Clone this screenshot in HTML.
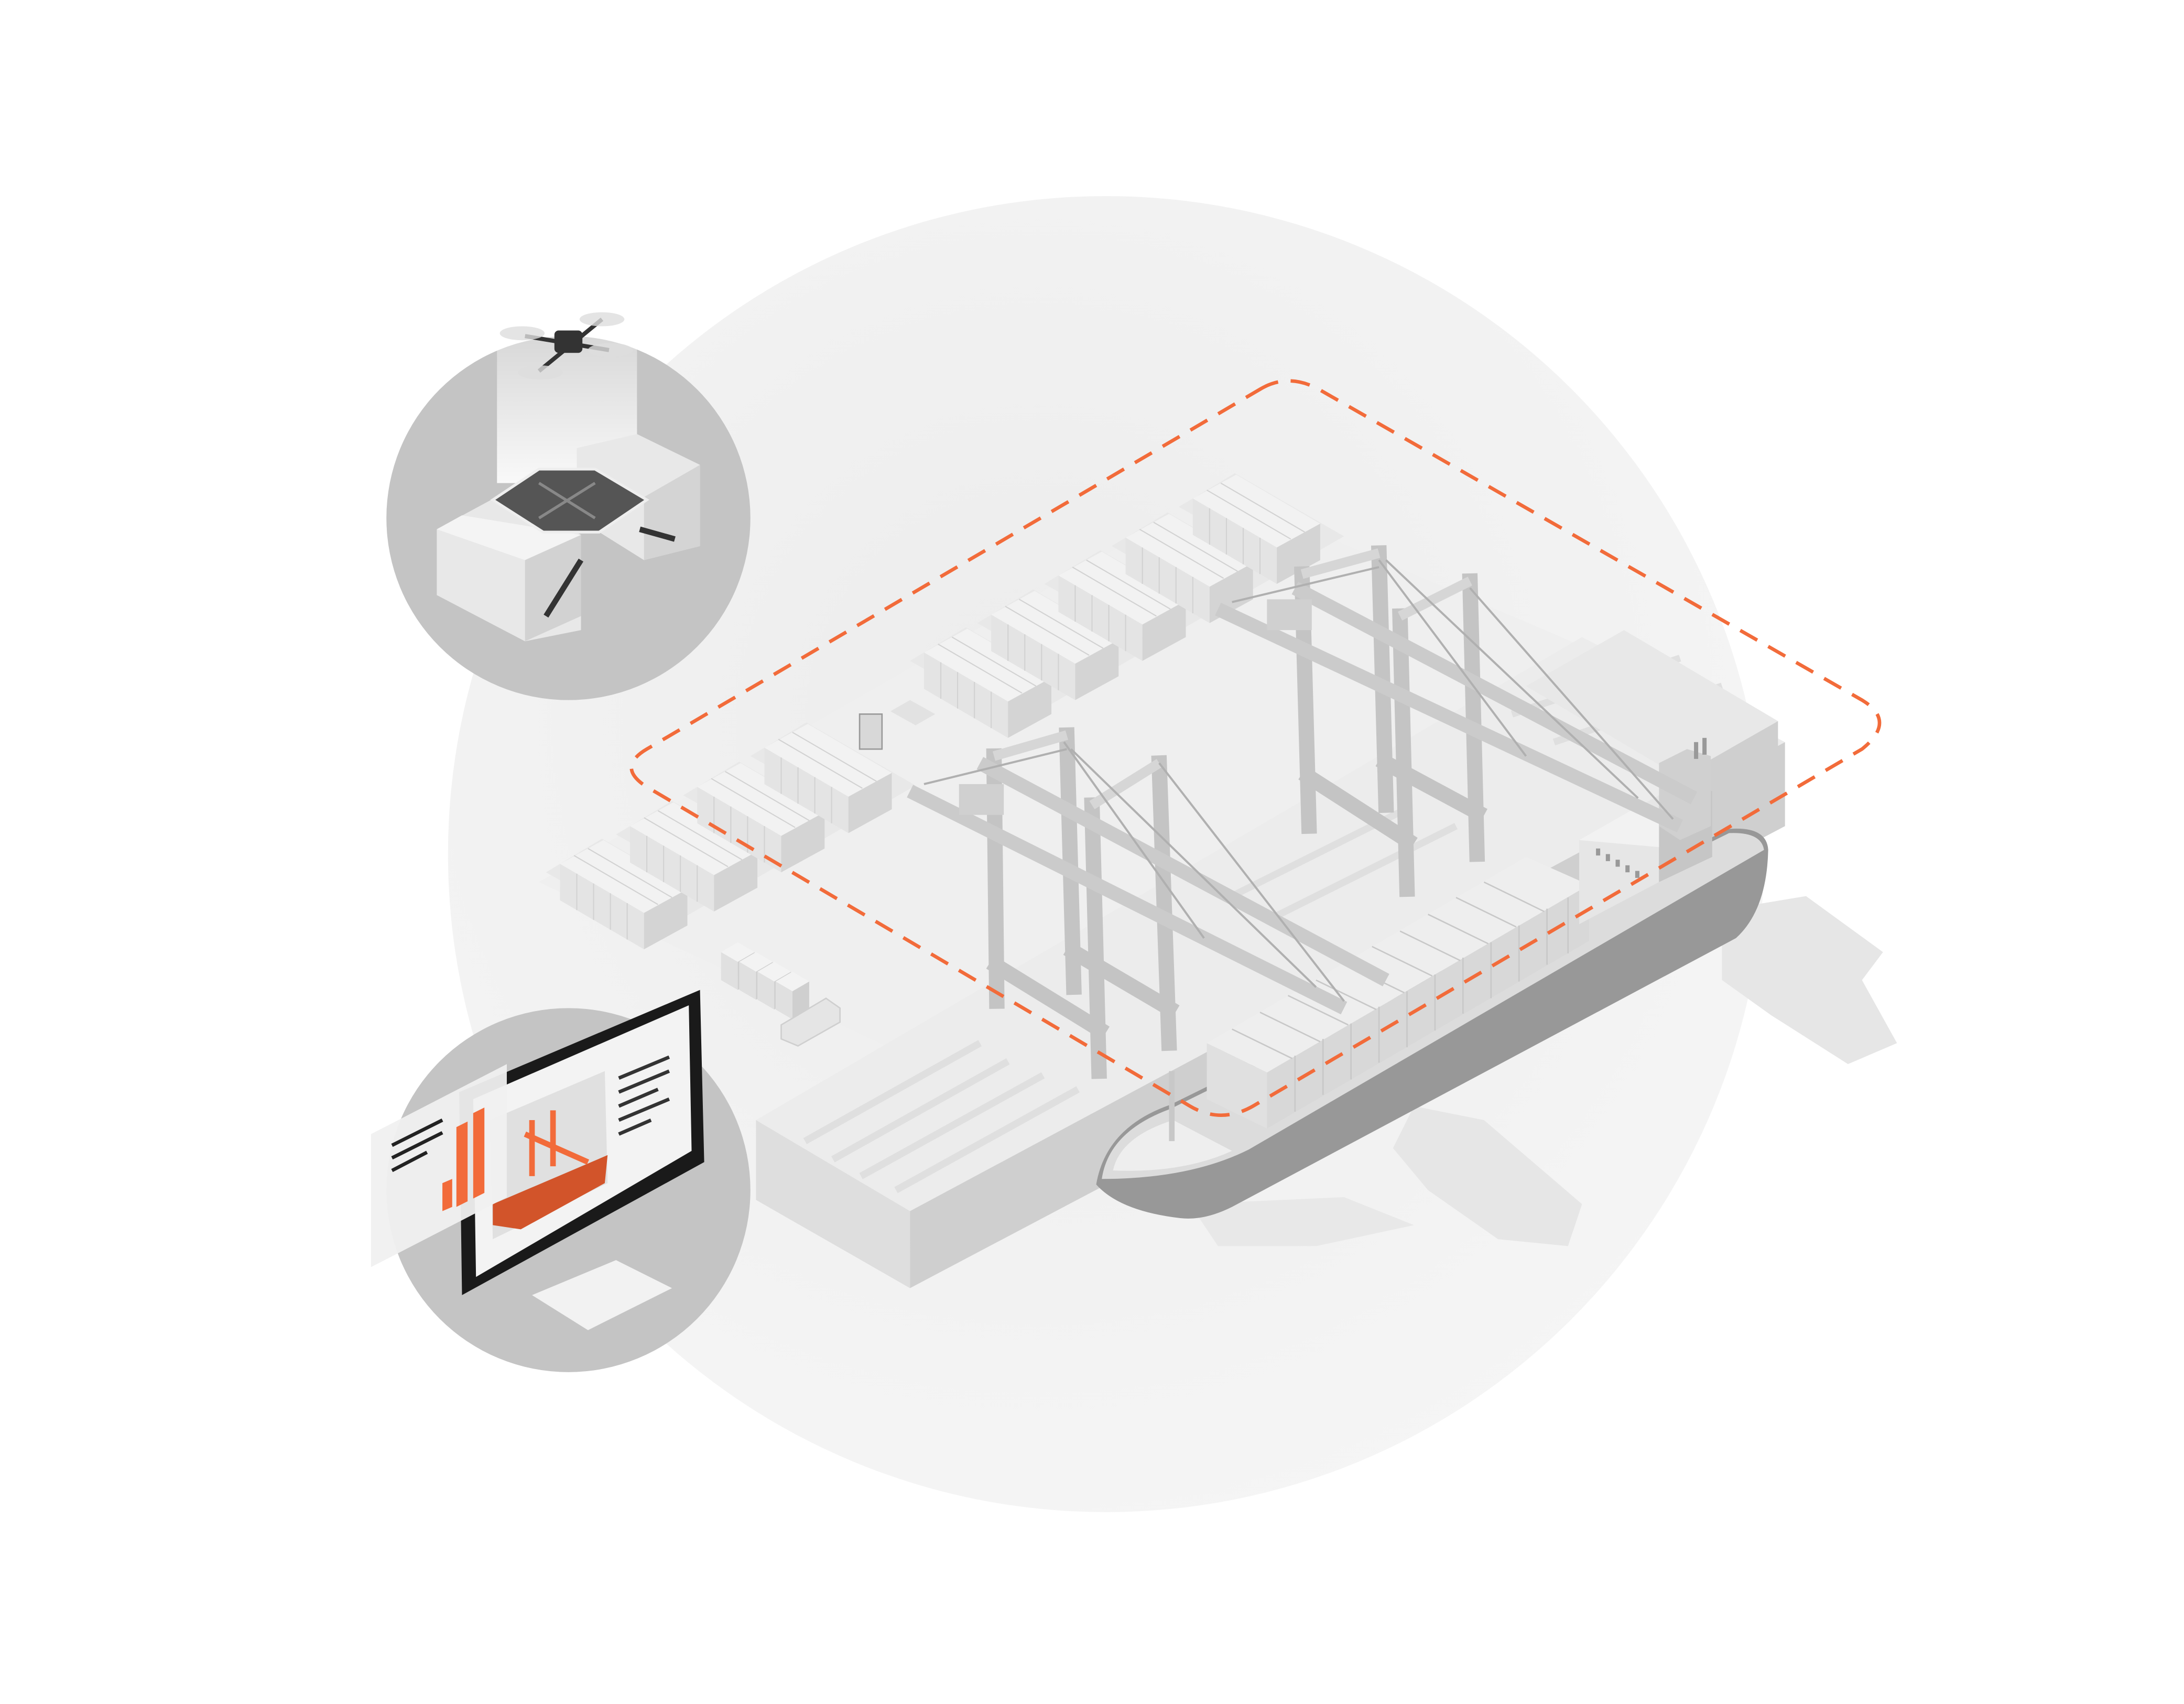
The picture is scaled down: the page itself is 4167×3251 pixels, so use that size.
<!DOCTYPE html>
<html><head><meta charset="utf-8"><style>
html,body{margin:0;padding:0;background:#fff}
svg{display:block}
</style></head><body>
<svg width="4167" height="3251" viewBox="0 0 1560 1217" xmlns="http://www.w3.org/2000/svg">
<defs>
<radialGradient id="bg" cx="0.45" cy="0.4" r="0.7">
<stop offset="0" stop-color="#ececec"/><stop offset="1" stop-color="#f6f6f6"/></radialGradient>
<linearGradient id="beam" x1="0" y1="0" x2="0" y2="1">
<stop offset="0" stop-color="#ffffff" stop-opacity="0.2"/><stop offset="1" stop-color="#ffffff" stop-opacity="0.9"/></linearGradient>
<g id="blk">
<polygon points="-10,6 30,-18 108,27 68,50" fill="#e8e8e8"/>
<polygon points="0,0 31,-17 91,18 60,35" fill="#f2f2f2"/>
<polygon points="0,0 60,35 60,61 0,26" fill="#e4e4e4"/>
<polygon points="60,35 91,18 91,44 60,61" fill="#d4d4d4"/>
<path d="M12,7 v26 M24,14 v26 M36,21 v26 M48,28 v26 M10,-6 l60,35 M20,-11 l60,35" stroke="#d2d2d2" stroke-width="0.8" fill="none"/>
</g>
<g id="cbox">
<polygon points="0,0 12,-7 24,0 12,7" fill="#f3f3f3"/>
<polygon points="0,0 12,7 12,27 0,20" fill="#e0e0e0"/>
<polygon points="12,7 24,0 24,20 12,27" fill="#cfcfcf"/>
</g>
</defs>
<rect width="1560" height="1217" fill="#fff"/>
<circle cx="790" cy="610" r="470" fill="url(#bg)"/>

<!-- ship shadows -->
<polygon points="1230,650 1290,640 1345,680 1330,700 1355,745 1320,760 1265,725 1230,700" fill="#e6e6e6"/>
<polygon points="1010,790 1060,800 1130,860 1120,890 1070,885 1020,850 995,820" fill="#e6e6e6"/>
<polygon points="850,860 960,855 1010,875 940,890 870,890" fill="#e8e8e8"/>

<!-- ground area -->
<polygon points="385,630 870,350 1150,470 660,760" fill="#efefef"/>
<!-- quay -->
<polygon points="540,800 1130,455 1275,530 650,865" fill="#ececec"/>
<polygon points="540,800 650,865 650,920 540,857" fill="#dedede"/>
<polygon points="650,865 1275,530 1275,590 650,920" fill="#cfcfcf"/>
<g stroke="#dedede" stroke-width="5" opacity="0.9">
<line x1="575" y1="815" x2="700" y2="745"/><line x1="595" y1="828" x2="720" y2="758"/>
<line x1="615" y1="840" x2="745" y2="768"/><line x1="640" y1="850" x2="770" y2="778"/>
<line x1="880" y1="640" x2="1000" y2="580"/><line x1="910" y1="655" x2="1040" y2="590"/>
<line x1="1080" y1="510" x2="1200" y2="470"/><line x1="1110" y1="530" x2="1230" y2="490"/>
</g>

<!-- yard container blocks -->
<use href="#blk" x="400" y="617"/>
<use href="#blk" x="450" y="590"/>
<use href="#blk" x="498" y="562"/>
<use href="#blk" x="546" y="534"/>
<use href="#blk" x="660" y="466"/>
<use href="#blk" x="708" y="439"/>
<use href="#blk" x="756" y="411"/>
<use href="#blk" x="804" y="384"/>
<use href="#blk" x="852" y="356"/>
<!-- small items -->
<use href="#cbox" x="515" y="680"/><use href="#cbox" x="528" y="687"/><use href="#cbox" x="541" y="694"/><use href="#cbox" x="554" y="701"/>
<polygon points="558,732 590,713 600,720 600,730 570,747 558,742" fill="#e5e5e5" stroke="#cfcfcf"/>
<polygon points="636,508 650,500 668,510 654,518" fill="#e2e2e2"/>
<rect x="614" y="510" width="16" height="25" fill="#d8d8d8" stroke="#999" stroke-width="1"/>

<!-- warehouse behind ship -->
<polygon points="1090,490 1160,450 1270,515 1200,555" fill="#e8e8e8"/>
<polygon points="1200,555 1270,515 1270,575 1200,615" fill="#cfcfcf"/>

<!-- ship hull -->
<path d="M783,846 Q790,805 836,789 L1235,592 Q1262,590 1263,607 Q1262,650 1240,670 L880,862 Q860,872 843,870 Q800,865 783,846 Z" fill="#989898"/>
<path d="M787,842 Q792,808 836,792 L1235,595 Q1258,594 1260,607 L892,821 Q850,842 787,842 Z" fill="#dcdcdc"/>
<path d="M795,836 Q800,812 838,800 L880,822 Q845,838 795,836 Z" fill="#eeeeee"/>
<!-- ship container mass -->
<polygon points="862,745 1090,612 1135,632 905,766" fill="#eeeeee"/>
<polygon points="862,745 905,766 905,806 862,785" fill="#e0e0e0"/>
<polygon points="905,766 1135,632 1135,672 905,806" fill="#d8d8d8"/>
<g stroke="#c8c8c8" stroke-width="1">
<path d="M925,754 v40 M945,742 v40 M965,731 v40 M985,719 v40 M1005,708 v40 M1025,696 v40 M1045,684 v40 M1065,673 v40 M1085,661 v40 M1105,649 v40 M1120,641 v40"/>
<path d="M880,735 l43,21 M900,723 l43,21 M920,711 l43,21 M940,700 l43,21 M960,688 l43,21 M980,676 l43,21 M1000,665 l43,21 M1020,653 l43,21 M1040,641 l43,21 M1060,630 l43,21"/>
</g>
<!-- superstructure -->
<polygon points="1128,600 1185,568 1185,630 1128,660" fill="#e6e6e6"/>
<polygon points="1128,600 1170,576 1210,590 1185,605" fill="#f2f2f2"/>
<polygon points="1185,568 1200,560 1223,565 1223,612 1185,630" fill="#c6c6c6"/>
<polygon points="1185,545 1205,535 1222,540 1222,590 1200,600 1185,590" fill="#d0d0d0"/>
<g fill="#999"><rect x="1140" y="606" width="3" height="5"/><rect x="1147" y="610" width="3" height="5"/><rect x="1154" y="614" width="3" height="5"/><rect x="1161" y="618" width="3" height="5"/><rect x="1168" y="622" width="3" height="5"/></g>
<rect x="1210" y="530" width="3" height="12" fill="#999"/><rect x="1216" y="527" width="3" height="12" fill="#999"/>
<!-- bow mast -->
<rect x="835" y="765" width="4" height="50" fill="#c8c8c8"/>

<!-- cranes -->
<g stroke="#c4c4c4" stroke-width="11" fill="none" stroke-linecap="square">
<line x1="710" y1="540" x2="712" y2="715"/><line x1="762" y1="525" x2="767" y2="705"/>
<line x1="780" y1="575" x2="785" y2="765"/><line x1="828" y1="545" x2="835" y2="745"/>
<line x1="712" y1="690" x2="785" y2="735"/><line x1="767" y1="680" x2="835" y2="720"/>
<line x1="930" y1="410" x2="935" y2="590"/><line x1="985" y1="395" x2="990" y2="575"/>
<line x1="1000" y1="440" x2="1005" y2="635"/><line x1="1050" y1="415" x2="1055" y2="610"/>
<line x1="935" y1="555" x2="1005" y2="600"/><line x1="990" y1="545" x2="1055" y2="580"/>
</g>
<g stroke="#cbcbcb" stroke-width="10" fill="none">
<line x1="650" y1="565" x2="960" y2="720"/><line x1="700" y1="545" x2="990" y2="700"/>
<line x1="870" y1="435" x2="1200" y2="590"/><line x1="925" y1="420" x2="1210" y2="570"/>
</g>
<g stroke="#d6d6d6" stroke-width="7" fill="none">
<line x1="710" y1="540" x2="762" y2="525"/><line x1="780" y1="575" x2="828" y2="545"/>
<line x1="930" y1="410" x2="985" y2="395"/><line x1="1000" y1="440" x2="1050" y2="415"/>
</g>
<g stroke="#b0b0b0" stroke-width="1.5" fill="none">
<line x1="765" y1="535" x2="940" y2="705"/><line x1="828" y1="545" x2="960" y2="715"/>
<line x1="990" y1="400" x2="1170" y2="570"/><line x1="1050" y1="420" x2="1195" y2="585"/>
<line x1="760" y1="530" x2="860" y2="670"/><line x1="985" y1="400" x2="1090" y2="540"/>
<line x1="660" y1="560" x2="762" y2="535"/><line x1="880" y1="430" x2="985" y2="405"/>
</g>
<rect x="685" y="560" width="32" height="22" fill="#d0d0d0"/>
<rect x="905" y="428" width="32" height="22" fill="#d0d0d0"/>

<!-- orange dashed outline -->
<path d="M900,278 Q920,266 942,278 L1330,500 Q1355,515 1330,535 L895,790 Q872,803 850,790 L462,562 Q440,548 462,535 Z" fill="none" stroke="#f26b3a" stroke-width="2.5" stroke-dasharray="14,9"/>

<!-- top-left circle -->
<circle cx="406" cy="370" r="130" fill="#c4c4c4"/>
<rect x="355" y="215" width="100" height="130" fill="url(#beam)"/>
<polygon points="312,378 360,352 415,382 415,450 375,458 312,425" fill="#e8e8e8"/>
<polygon points="312,378 330,368 415,382 375,400" fill="#f4f4f4"/>
<polygon points="375,400 415,382 415,440 375,458" fill="#d2d2d2"/>
<polygon points="412,320 455,310 500,332 500,390 460,400 412,370" fill="#e8e8e8"/>
<polygon points="460,355 500,332 500,390 460,400" fill="#d4d4d4"/>
<polygon points="352,357 385,335 425,335 462,357 428,380 388,380" fill="#555" stroke="#eee" stroke-width="2"/>
<path d="M385,345 L425,370 M425,345 L385,370" stroke="#888" stroke-width="2"/>
<line x1="390" y1="440" x2="415" y2="400" stroke="#333" stroke-width="4"/>
<line x1="457" y1="378" x2="482" y2="385" stroke="#333" stroke-width="4"/>
<!-- drone -->
<g stroke="#333" stroke-width="3" fill="none">
<line x1="375" y1="240" x2="435" y2="250"/><line x1="385" y1="265" x2="430" y2="228"/>
</g>
<ellipse cx="373" cy="238" rx="16" ry="5" fill="#ddd" opacity="0.8"/>
<ellipse cx="436" cy="250" rx="16" ry="5" fill="#ddd" opacity="0.8"/>
<ellipse cx="386" cy="266" rx="16" ry="5" fill="#ddd" opacity="0.8"/>
<ellipse cx="430" cy="228" rx="16" ry="5" fill="#ddd" opacity="0.8"/>
<rect x="396" y="236" width="20" height="16" rx="3" fill="#333"/>

<!-- bottom-left circle -->
<circle cx="406" cy="850" r="130" fill="#c4c4c4"/>
<polygon points="380,925 440,900 480,920 420,950" fill="#f2f2f2"/>
<polygon points="328,780 500,707 503,830 330,925" fill="#1a1a1a"/>
<polygon points="338,785 492,718 494,822 340,912" fill="#f3f3f3"/>
<polygon points="350,800 432,765 434,845 352,885" fill="#e0e0e0"/>
<polygon points="352,860 434,825 432,845 372,878 352,875" fill="#d2542a"/>
<g stroke="#f26b3a" stroke-width="4" fill="none">
<line x1="380" y1="800" x2="380" y2="840"/><line x1="395" y1="793" x2="395" y2="833"/><line x1="375" y1="810" x2="420" y2="830"/>
</g>
<g stroke="#333" stroke-width="2.5">
<line x1="442" y1="770" x2="478" y2="755"/><line x1="442" y1="780" x2="478" y2="765"/><line x1="442" y1="790" x2="470" y2="778"/>
<line x1="442" y1="800" x2="478" y2="785"/><line x1="442" y1="810" x2="465" y2="800"/>
</g>
<polygon points="265,810 362,760 362,855 265,905" fill="#f0f0f0" opacity="0.95"/>
<g stroke="#222" stroke-width="2.5">
<line x1="280" y1="818" x2="316" y2="800"/><line x1="280" y1="827" x2="316" y2="809"/><line x1="280" y1="836" x2="305" y2="823"/>
</g>
<polygon points="316,845 323,842 323,862 316,865" fill="#f26b3a"/>
<polygon points="326,805 334,801 334,858 326,862" fill="#f26b3a"/>
<polygon points="338,795 346,791 346,852 338,856" fill="#f26b3a"/>
</svg>
</body></html>
